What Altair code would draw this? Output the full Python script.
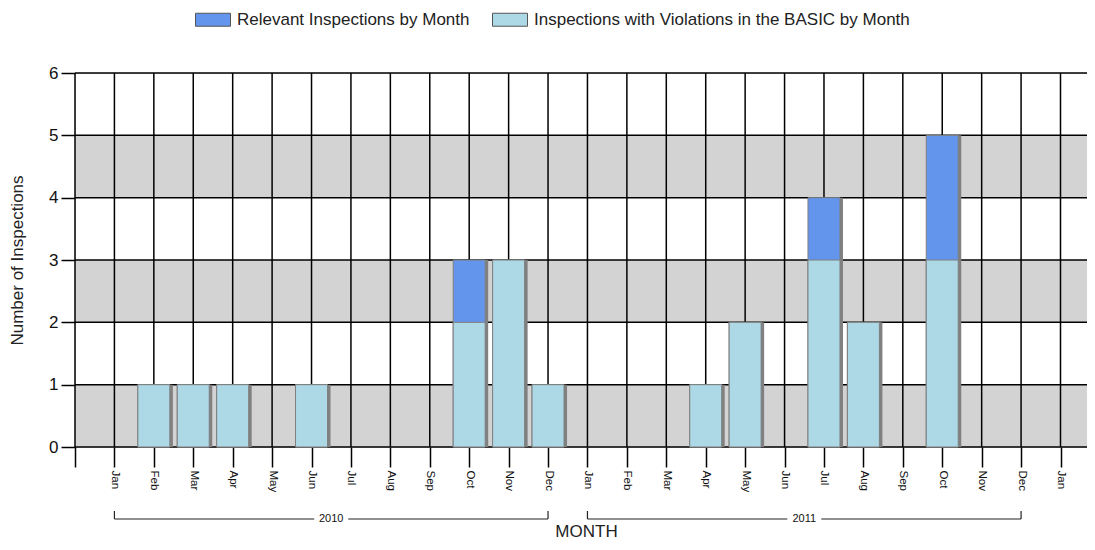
import altair as alt
import pandas as pd

# ---------------- data ----------------
month_names = ["Jan", "Feb", "Mar", "Apr", "May", "Jun",
               "Jul", "Aug", "Sep", "Oct", "Nov", "Dec"]
bar_months = ["2010-02", "2010-03", "2010-04", "2010-06", "2010-10", "2010-11",
              "2010-12", "2011-04", "2011-05", "2011-07", "2011-08", "2011-10"]
relevant = [1, 1, 1, 1, 3, 3, 1, 1, 2, 4, 2, 5]
violations = [1, 1, 1, 1, 2, 3, 1, 1, 2, 3, 2, 3]
series_names = ["Relevant Inspections by Month",
                "Inspections with Violations in the BASIC by Month"]
series_colors = ["#6495ED", "#ADD8E6"]
years = ["2010", "2011"]
y_ticks = [0, 1, 2, 3, 4, 5, 6]
band_low = [0, 2, 4]
band_high = [1, 3, 5]
first_year = 2010
n_month_ticks = 26          # Dec 2009 (index 0) ... Jan 2012 (index 25)

# ---------------- layout ----------------
W, H = 1012, 374
PX_PER_MONTH = 39.42
FONT = "Liberation Sans"


def month_index(s):
    y, m = s.split("-")
    return (int(y) - first_year) * 12 + int(m)


idx = [month_index(m) for m in bar_months]
tick_idx = list(range(n_month_ticks))

bars_df = pd.DataFrame(
    [{"idx": i, "value": v, "series": series_names[0], "rank": 0} for i, v in zip(idx, relevant)]
    + [{"idx": i, "value": v, "series": series_names[1], "rank": 1} for i, v in zip(idx, violations)]
)
shadow_df = pd.DataFrame({"idx": idx, "value": relevant})
bands_df = pd.DataFrame({"lo": band_low, "hi": band_high})
hgrid_df = pd.DataFrame({"v": y_ticks})
vgrid_df = pd.DataFrame({"m": tick_idx})
year_df = pd.DataFrame({
    "year": years,
    "start": [(int(y) - first_year) * 12 + 1 for y in years],
    "end": [(int(y) - first_year) * 12 + 12 for y in years],
})
year_df["center"] = (year_df["start"] + year_df["end"]) / 2

x_scale = alt.Scale(domain=[0, W / PX_PER_MONTH], nice=False, zero=False, padding=0)
y_scale = alt.Scale(domain=[0, 6], nice=False, zero=True)

label_js = "['Dec','Jan','Feb','Mar','Apr','May','Jun','Jul','Aug','Sep','Oct','Nov']"
x_axis = alt.Axis(
    values=tick_idx,
    labelExpr=f"datum.value == 0 ? '' : {label_js}[datum.value % 12]",
    labelAngle=90, labelAlign="left", labelBaseline="middle",
    labelFontSize=11.5, labelPadding=3, labelColor="#111",
    labelOverlap=False, labelFlush=False, labelBound=False,
    tickSize=20, tickColor="#000", tickWidth=1.5,
    domain=False, grid=False,
    title="MONTH", titleFontSize=17, titleFontWeight="normal", titleColor="#222",
    titleX=511, titleY=89, titleBaseline="alphabetic", titleAlign="center",
)
y_axis = alt.Axis(
    values=y_ticks, labelFontSize=17, labelPadding=3, labelColor="#111",
    labelFlush=False,
    tickSize=14, tickColor="#000", tickWidth=1.5,
    domain=False, grid=False,
    title="Number of Inspections", titleFontSize=17, titleFontWeight="normal",
    titleColor="#222", titleX=-58, titleY=H / 2, titleAngle=-90,
    titleAlign="center", titleBaseline="middle",
)

bands = alt.Chart(bands_df).mark_rect(color="#D3D3D3").encode(
    y=alt.Y("lo:Q", scale=y_scale, axis=y_axis),
    y2="hi:Q",
    x=alt.value(0), x2=alt.value(W),
)
hgrid = alt.Chart(hgrid_df).mark_rule(color="#000", strokeWidth=1.5).encode(
    y=alt.Y("v:Q", scale=y_scale, axis=y_axis),
    x=alt.value(0), x2=alt.value(W),
)
vgrid = alt.Chart(vgrid_df).mark_rule(color="#000", strokeWidth=1.5).encode(
    x=alt.X("m:Q", scale=x_scale, axis=x_axis),
    y=alt.value(0), y2=alt.value(H),
)
shadow = alt.Chart(shadow_df).mark_bar(size=32, xOffset=3, color="#808080").encode(
    x=alt.X("idx:Q", scale=x_scale, axis=x_axis),
    y=alt.Y("value:Q", scale=y_scale, axis=y_axis, stack=None),
)
bars = alt.Chart(bars_df).mark_bar(size=32, stroke="#7f7f7f", strokeWidth=1).encode(
    x=alt.X("idx:Q", scale=x_scale, axis=x_axis),
    y=alt.Y("value:Q", scale=y_scale, axis=y_axis, stack=None),
    color=alt.Color(
        "series:N",
        scale=alt.Scale(domain=series_names, range=series_colors),
        legend=alt.Legend(
            orient="none", legendX=120, legendY=-71.5, direction="horizontal",
            title=None,
            symbolType="M-1,-0.371L1,-0.371L1,0.371L-1,0.371Z",
            symbolSize=1225, symbolStrokeColor="#555555", symbolStrokeWidth=1,
            symbolOpacity=1,
            labelFontSize=17, labelFont=FONT, labelColor="#222", labelLimit=0,
            labelOffset=6, columnPadding=20, padding=0,
        ),
    ),
    order=alt.Order("rank:Q"),
)

line_y = 446
cap_top = 438
yr_left = alt.Chart(year_df).mark_rule(color="#222", strokeWidth=1.2, x2Offset=-17).encode(
    x=alt.X("start:Q", scale=x_scale, axis=x_axis), x2="center:Q", y=alt.value(line_y),
)
yr_right = alt.Chart(year_df).mark_rule(color="#222", strokeWidth=1.2, xOffset=17).encode(
    x=alt.X("center:Q", scale=x_scale, axis=x_axis), x2="end:Q", y=alt.value(line_y),
)
cap_l = alt.Chart(year_df).mark_rule(color="#222", strokeWidth=1.2).encode(
    x=alt.X("start:Q", scale=x_scale, axis=x_axis), y=alt.value(cap_top), y2=alt.value(line_y),
)
cap_r = alt.Chart(year_df).mark_rule(color="#222", strokeWidth=1.2).encode(
    x=alt.X("end:Q", scale=x_scale, axis=x_axis), y=alt.value(cap_top), y2=alt.value(line_y),
)
yr_text = alt.Chart(year_df).mark_text(fontSize=11, color="#111", baseline="middle").encode(
    x=alt.X("center:Q", scale=x_scale, axis=x_axis), y=alt.value(line_y), text="year:N",
)

chart = alt.layer(
    bands, hgrid, vgrid, shadow, bars, yr_left, yr_right, cap_l, cap_r, yr_text
).properties(
    width=W, height=H,
    autosize=alt.AutoSizeParams(type="none"),
    padding={"left": 67, "top": 65, "right": 0, "bottom": 95},
).configure_view(stroke=None).configure(font=FONT)

chart.save("out.html", embed_options={"renderer": "svg", "actions": False})
